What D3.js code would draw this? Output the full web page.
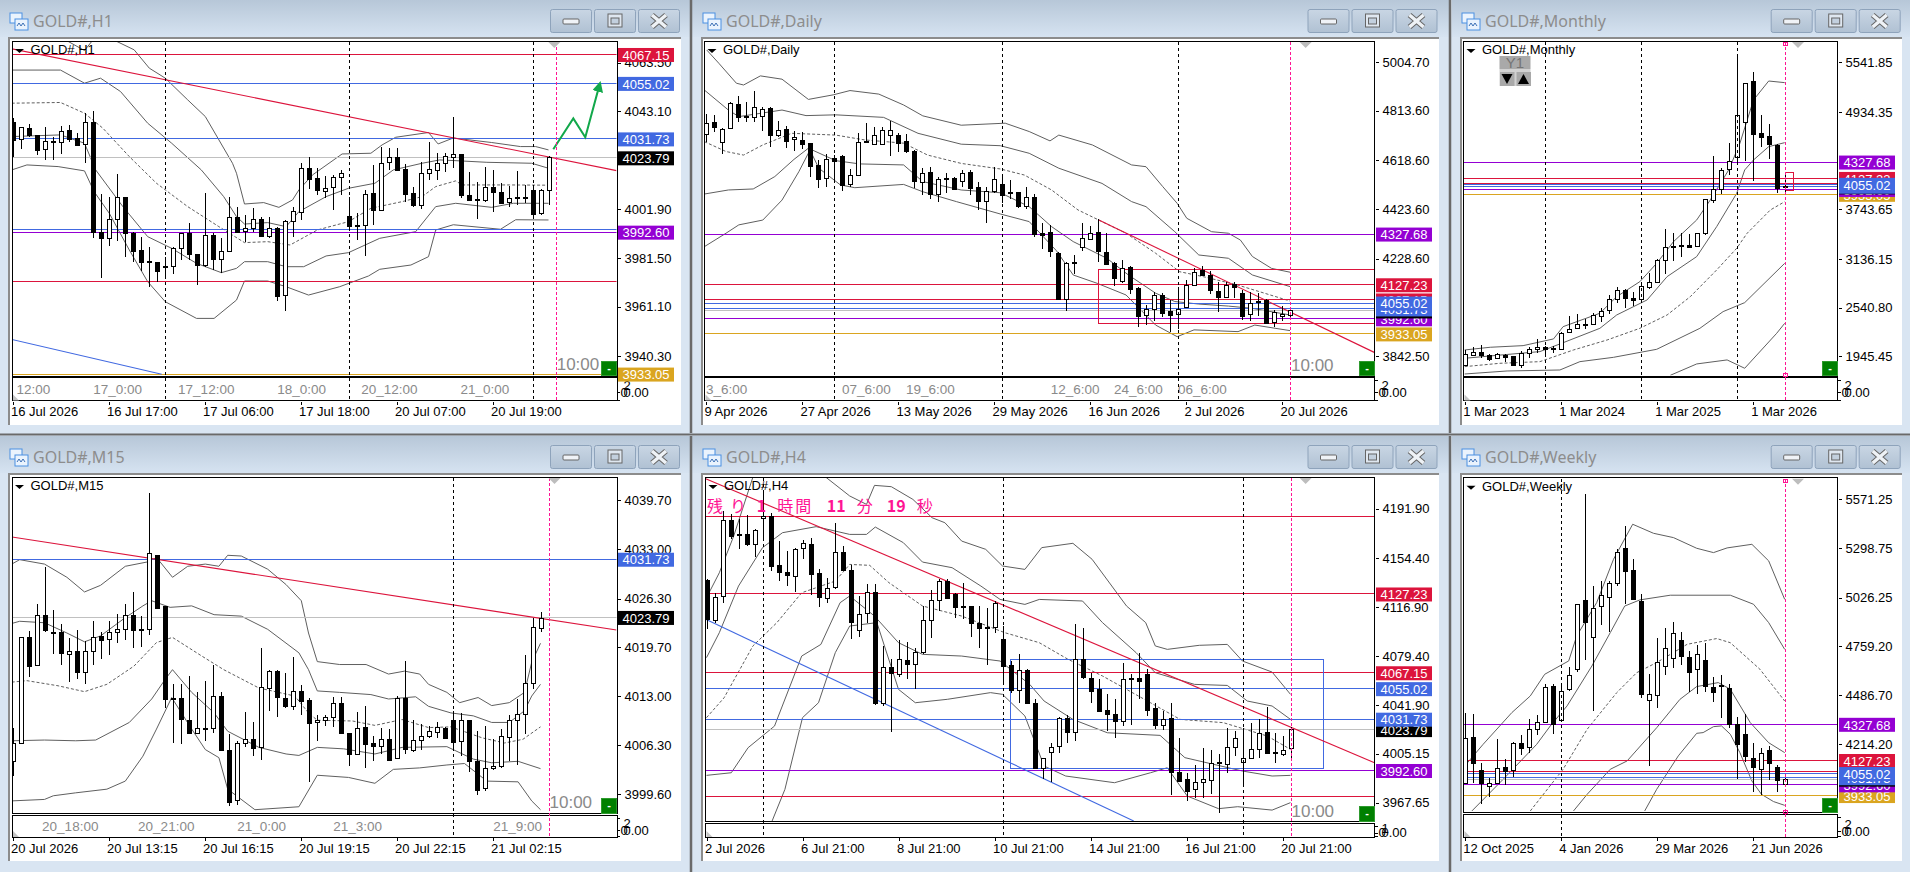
<!DOCTYPE html>
<html>
<head>
<meta charset="utf-8">
<style>
  html, body { margin: 0; padding: 0; background: #d8e4f0; overflow: hidden; }
  svg { display: block; }
  text { font-family: "Liberation Sans", Arial, sans-serif; }
  .axis text { font-size: 13px; fill: #000; }
  .axis line { stroke: #000; shape-rendering: crispEdges; }
  .axis path { display: none; }
</style>
<script src="https://cdn.jsdelivr.net/npm/d3@7"></script>
</head>
<body>
<svg id="chart" width="1910" height="872"></svg>
<script>
// levels shared by all six charts, in the order the labels stack up
const levelPrices = [3933.05, 3992.60, 4023.79, 4031.73, 4067.15, 4127.23, 4055.02, 4327.68];
const levelColors = ['#DAA520', '#9400D3', '#C0C0C0', '#4169E1', '#DC143C', '#DC143C', '#4169E1', '#9400D3'];
const labelColors = ['#DAA520', '#9400D3', '#000000', '#4169E1', '#DC143C', '#DC143C', '#4169E1', '#9400D3'];

// candles are [open, high, low, close]
const h1Candles = [[4038.8,4040.2,4024.1,4031.1],[4031.4,4036.7,4027.3,4036.4],[4036.0,4037.8,4032.2,4033.1],[4033.1,4033.3,4024.8,4027.0],[4027.0,4036.7,4022.7,4030.5],[4030.4,4032.5,4022.7,4030.8],[4030.5,4037.0,4025.2,4035.0],[4035.3,4037.5,4030.4,4031.7],[4031.9,4034.2,4028.6,4029.1],[4029.3,4042.3,4021.3,4038.5],[4038.5,4043.3,3989.9,3992.3],[3992.3,4008.4,3973.3,3989.7],[3989.7,4007.3,3986.6,3997.8],[3997.8,4016.8,3988.8,4007.0],[4007.0,4007.3,3982.1,3991.9],[3991.9,3992.6,3980.0,3984.2],[3984.9,3990.2,3976.1,3979.9],[3980.1,3986.0,3969.2,3979.6],[3979.9,3979.9,3971.6,3976.2],[3977.9,3982.1,3973.0,3978.2],[3977.9,3986.3,3974.8,3985.6],[3985.6,3991.9,3980.7,3991.9],[3991.9,3996.1,3980.7,3982.9],[3983.2,3983.2,3970.2,3978.7],[3978.7,4009.0,3977.9,3991.1],[3991.2,3991.9,3976.5,3981.3],[3981.3,3989.8,3975.1,3984.6],[3984.6,4007.3,3984.2,3998.9],[3998.9,4002.8,3991.9,3992.5],[3992.6,3999.6,3988.1,3994.0],[3993.9,4002.4,3992.6,3997.8],[3997.8,3998.9,3990.2,3990.5],[3990.5,3998.9,3990.1,3994.0],[3994.1,3994.7,3963.6,3965.7],[3965.7,3997.5,3959.4,3996.9],[3996.9,4003.1,3990.2,4001.1],[4000.7,4021.3,3997.5,4019.2],[4019.2,4023.8,4010.4,4014.7],[4015.0,4019.2,4007.9,4009.8],[4009.8,4016.1,4006.6,4011.1],[4011.1,4016.4,4001.7,4015.4],[4015.4,4018.5,4008.0,4017.1],[3999.0,4007.3,3993.0,3994.7],[3995.3,4000.3,3989.1,3994.7],[3995.3,4010.1,3982.4,4008.4],[4009.0,4020.6,3995.4,4001.7],[4001.7,4028.3,4001.4,4021.6],[4021.6,4027.6,4018.5,4023.8],[4023.8,4027.6,4018.2,4018.5],[4018.8,4021.0,4004.9,4008.5],[4008.7,4011.5,4003.1,4003.5],[4003.5,4021.7,4002.0,4017.1],[4017.1,4030.4,4014.3,4018.8],[4018.5,4025.5,4014.3,4021.3],[4021.3,4025.8,4017.8,4024.4],[4023.7,4040.6,4019.2,4025.1],[4025.1,4025.2,4006.6,4008.0],[4007.9,4017.7,4005.5,4005.6],[4006.2,4013.3,3998.1,4005.6],[4006.2,4019.6,4005.2,4011.5],[4011.5,4018.5,4001.0,4009.4],[4009.4,4013.2,4004.5,4004.8],[4005.3,4011.8,4003.1,4006.9],[4006.9,4018.1,4003.8,4007.2],[4007.3,4012.2,4004.8,4007.0],[4010.1,4012.2,3998.9,4000.2],[4000.2,4010.4,3999.6,4009.9],[4009.8,4024.4,4003.8,4023.8]];
const h1Up2 = [[-0.1,4074.2],[6,4074.2],[9,4068.6],[10.4,4074.5],[11.8,4075.9],[12.8,4072.8],[15.2,4068.9],[17.1,4061.2],[19.1,4057],[21.9,4047.9],[24.1,4040.9],[25.8,4031.1],[27.5,4021.3],[28,4017.1],[29,4004.2],[31.4,4004.8],[33.3,4002.8],[35,4005.9],[35.8,4010.1],[37.5,4016.4],[41.2,4025.2],[44.8,4025.5],[46.2,4029],[47.9,4032.2],[52,4034.2],[53.2,4029.4],[55.1,4031.9],[59.9,4030],[63.5,4028.3],[65.4,4028.3],[67,4026.9]];
const h1Up1 = [[-0.1,4060.4],[6,4060.4],[9,4054.9],[11,4057],[13.5,4051.4],[16.9,4038.1],[19.9,4029.7],[23.6,4018.5],[26.4,4007.3],[28,3998.9],[29,3995.8],[31.9,3996.4],[34.2,3994.7],[35.8,4001],[39.2,4007.3],[42,4010.8],[45.3,4012.9],[47.6,4018.5],[51.2,4021.3],[53.4,4022.7],[55.9,4022.3],[59.3,4021.7],[64.9,4021.3],[67,4019.2]];
const h1Mid = [[-0.1,4046.5],[6,4046.8],[9,4042.3],[11.3,4036],[14.6,4024.1],[18,4012.9],[21.9,4003.1],[25.8,3994.7],[29,3988],[31.9,3988.4],[34.7,3987],[38.1,3993.3],[42,3996.8],[44.8,4002.4],[48.7,4005.2],[51.2,4007.3],[52.9,4011.5],[55.4,4013.9],[56.2,4012.2],[62.1,4012.2],[67,4012.1]];
const h1Dn1 = [[-0.1,4032.5],[6,4033.2],[9,4029.7],[10.4,4018.5],[13.8,4003.1],[16.9,3990.5],[19.9,3985.6],[23,3979.3],[26.1,3975.4],[28,3977.2],[29,3980],[31.9,3980],[34.2,3977.9],[36.4,3977.9],[39.2,3982.4],[42,3983.8],[45.9,3989.8],[50.4,3992.6],[52.9,4003.1],[55.4,4004.5],[59.9,4002.8],[62.6,4004.5],[67,4004.5]];
const h1Dn2 = [[-0.1,4018.5],[1.8,4020.6],[5.7,4019.9],[9,4018.1],[10.2,4009.4],[12.1,4000.3],[14.6,3984.9],[16.9,3971.6],[19.1,3963.2],[23,3956.2],[25.2,3956.2],[28,3963.9],[29,3971.9],[31.9,3971.9],[34.2,3969.5],[37,3966],[40.9,3969.5],[44.5,3974],[45.9,3976.8],[49.8,3978.6],[52,3982.1],[52.9,3993.3],[55.1,3995.5],[61,3993.6],[62.9,3997.6],[67,3997.5]];
const h1TrendRed = [[-0.1,4069.3],[75.5,4018.2]];
const h1TrendBlue = [[-0.1,3947.4],[18.65,3932.8]];
const h1Arrow = [[67.6,4027.2],[70.1,4040.1],[71.6,4032.2],[73.4,4054.5]];
const h1Ticks = [4063.50,4043.10,4022.50,4001.90,3981.50,3961.10,3940.30];
const h1Dates = ['16 Jul 2026','16 Jul 17:00','17 Jul 06:00','17 Jul 18:00','20 Jul 07:00','20 Jul 19:00'];
const h1SubLabels = [[0.5,'12:00'],[10.1,'17_0:00'],[20.7,'17_12:00'],[33.1,'18_0:00'],[43.6,'20_12:00'],[56,'21_0:00']];

const dailyCandles = [[4721,4800,4691,4764],[4767,4797,4731,4748],[4687,4746,4642,4740],[4744,4849,4744,4843],[4840,4872,4770,4790],[4790,4849,4770,4793],[4790,4891,4767,4829],[4790,4827,4735,4819],[4824,4829,4671,4717],[4719,4774,4711,4739],[4740,4753,4665,4691],[4699,4735,4655,4708],[4696,4728,4662,4681],[4685,4687,4553,4596],[4599,4619,4507,4542],[4545,4642,4513,4621],[4625,4638,4540,4612],[4634,4638,4497,4521],[4521,4582,4513,4558],[4558,4724,4555,4688],[4692,4764,4684,4687],[4679,4750,4677,4716],[4679,4748,4677,4736],[4716,4774,4634,4736],[4717,4724,4652,4687],[4692,4721,4645,4652],[4654,4658,4507,4536],[4529,4586,4480,4566],[4570,4590,4463,4482],[4482,4553,4454,4542],[4542,4569,4487,4546],[4547,4550,4500,4505],[4533,4579,4513,4566],[4570,4579,4480,4505],[4510,4533,4421,4454],[4454,4513,4368,4495],[4495,4592,4487,4542],[4524,4553,4447,4482],[4493,4540,4463,4491],[4491,4493,4428,4434],[4438,4513,4424,4474],[4474,4484,4313,4326],[4331,4368,4265,4322],[4333,4362,4236,4256],[4250,4256,4068,4069],[4069,4217,4023,4210],[4213,4243,4168,4217],[4273,4368,4260,4309],[4308,4358,4302,4331],[4333,4384,4217,4256],[4256,4329,4203,4207],[4210,4217,4122,4150],[4140,4223,4134,4190],[4197,4200,4089,4110],[4111,4115,3960,4000],[4003,4045,3966,4028],[4032,4098,3984,4086],[4085,4092,3997,4015],[4023,4065,3940,4007],[4011,4115,3949,4031],[4036,4144,4032,4123],[4124,4190,4120,4175],[4184,4201,4164,4165],[4164,4181,4089,4105],[4101,4138,4019,4078],[4076,4138,4072,4124],[4130,4138,4072,4119],[4092,4105,3986,4000],[4008,4098,3984,4052],[4061,4094,4000,4056],[4065,4069,3970,3973],[3976,4026,3960,4016],[4001,4041,3984,4009],[4006,4028,3997,4024]];
const dailyUp2 = [[0.1,5053],[1.6,5001],[3.8,4922],[4.7,4915],[6.8,4951],[9.5,4938],[12.8,4858],[15.9,4876],[18,4893],[21.6,4879],[24.7,4836],[27.1,4793],[31.9,4756],[37.4,4764],[40.4,4731],[43,4694],[44.1,4717],[48.3,4678],[53.2,4599],[55,4592],[57.1,4513],[58.9,4447],[60.1,4388],[63.2,4335],[65.3,4329],[66.8,4302],[68.3,4237],[70.7,4190],[73,4175]];
const dailyUp1 = [[-0.2,4895],[2.8,4816],[4.1,4790],[9.5,4816],[12.5,4794],[16.2,4797],[22.2,4787],[26.5,4724],[31.9,4681],[36.8,4675],[40.4,4645],[44.1,4586],[49.5,4526],[53.2,4454],[55,4434],[58.6,4335],[61.6,4243],[65.3,4230],[68.3,4164],[73,4118]];
const dailyMid = [[-0.2,4691],[2.5,4652],[4.7,4638],[7.1,4678],[10.7,4724],[16.2,4717],[19.8,4698],[24.7,4685],[27.7,4638],[31.9,4605],[36.8,4583],[39.8,4559],[43.2,4500],[46.5,4421],[49.5,4375],[52.5,4329],[56.2,4250],[59.2,4177],[62.2,4157],[66.5,4124],[73,4061]];
const dailyDn1 = [[-0.2,4484],[2.8,4500],[5.9,4504],[8.6,4553],[11,4621],[12.8,4665],[16.2,4616],[19.2,4603],[24.7,4599],[27.1,4533],[31.9,4500],[36.8,4489],[40.4,4434],[43.2,4355],[45.9,4296],[50.1,4230],[52.8,4164],[56.2,4092],[58.6,4059],[61.6,4049],[65.3,4041],[68.3,4032],[73,4006]];
const dailyDn2 = [[-0.2,4276],[2.5,4329],[4.1,4362],[7.1,4381],[9.5,4460],[11.6,4572],[13,4658],[14.1,4586],[16.8,4520],[18.6,4509],[24.7,4522],[27.1,4493],[31.3,4454],[36.8,4405],[40.4,4375],[43.8,4260],[45.9,4164],[48.9,4131],[52.5,4085],[56.2,3966],[58.9,3920],[61,3947],[66.5,3940],[68.6,3966],[73,3944]];
const dailyTrendRed = [[49.1,4381],[83.6,3857]];
const dailyBox = [49, 84, 4186.4, 3973];
const dailyTicks = [5004.70,4813.60,4618.60,4423.60,4228.60,4033.60,3842.50];
const dailyDates = ['9 Apr 2026','27 Apr 2026','13 May 2026','29 May 2026','16 Jun 2026','2 Jul 2026','20 Jul 2026'];
const dailySubLabels = [[0,'3_6:00'],[17,'07_6:00'],[25,'19_6:00'],[43.1,'12_6:00'],[51,'24_6:00'],[59,'06_6:00']];

const monthlyCandles = [[1831,2023,1827,1970],[1962,2056,1950,1998],[1994,2080,1929,1962],[1966,1974,1892,1913],[1917,1990,1909,1970],[1966,1974,1872,1937],[1950,1954,1840,1844],[1844,2015,1807,1990],[1986,2064,1921,2039],[2043,2154,1982,2064],[2064,2072,1974,2043],[2039,2072,1990,2047],[2043,2243,2039,2235],[2247,2439,2235,2284],[2288,2463,2280,2337],[2337,2398,2280,2345],[2333,2480,2325,2447],[2447,2533,2366,2504],[2504,2696,2463,2643],[2643,2790,2602,2753],[2753,2773,2541,2655],[2655,2732,2561,2626],[2639,2859,2614,2802],[2802,2961,2773,2859],[2863,3132,2859,3128],[3132,3499,2953,3287],[3287,3450,3116,3295],[3295,3458,3165,3307],[3303,3438,3271,3283],[3291,3458,3283,3450],[3446,3874,3434,3866],[3866,4396,3825,3997],[3988,4245,3935,4221],[4233,4551,4168,4331],[4380,5603,4323,4894],[4808,5285,4339,5285],[5313,5424,4094,4669],[4673,4898,4510,4620],[4641,4787,4359,4547],[4531,4543,3947,4001],[4025,4200,3960,4009]];
const monthlyUp2 = [[0,2023],[3.2,2056],[7.3,2076],[11.1,2158],[12.3,2308],[16.9,2472],[19,2675],[21.9,2859],[24,3083],[26.1,3348],[29,3613],[30.7,3858],[33,4225],[34.4,4551],[36.1,5081],[38,5313],[40,5293]];
const monthlyUp1 = [[0,1921],[3.2,1950],[9.4,2003],[12.1,2104],[16.9,2288],[19,2451],[22.8,2635],[25.3,2920],[29,3165],[31.5,3532],[34,3939],[35,4225],[36.1,4347],[38,4510],[40,4559]];
const monthlyMid = [[0,1819],[4.4,1860],[9.4,1880],[13.6,2023],[17.8,2145],[21.9,2288],[25.3,2451],[28.2,2675],[31.5,3002],[34,3267],[35.3,3450],[38.2,3735],[40,3837]];
const monthlyDn1 = [[0,1729],[5.3,1766],[11.9,1778],[14.4,1880],[18.6,1933],[24,2031],[29.4,2288],[32.3,2492],[35,2602],[40,3083]];
const monthlyDn2 = [[25.7,1713],[29,1852],[32.8,1901],[35,1799],[39,2227],[40,2349]];
const monthlyBox = [40, 41, 4196, 3972];
const monthlyTicks = [5541.85,4934.35,4339.00,3743.65,3136.15,2540.80,1945.45];
const monthlyDates = ['1 Mar 2023','1 Mar 2024','1 Mar 2025','1 Mar 2026'];

const m15Candles = [[4004.2,4008.7,4002.1,4006.6],[4006.6,4021.1,4006.5,4021.0],[4021.1,4021.9,4015.6,4017.1],[4017.2,4025.5,4017.1,4024.0],[4024.0,4030.6,4021.7,4021.9],[4021.8,4024.7,4018.7,4021.6],[4021.7,4022.8,4017.2,4018.8],[4018.8,4020.9,4014.9,4019.2],[4019.2,4022.0,4015.3,4016.3],[4016.2,4020.5,4014.6,4019.1],[4019.1,4023.2,4017.3,4021.0],[4021.2,4021.7,4018.0,4020.7],[4020.7,4023.2,4018.6,4021.7],[4021.7,4024.2,4020.3,4022.1],[4022.1,4025.5,4020.7,4024.0],[4024.0,4027.2,4019.6,4022.0],[4022.1,4023.9,4019.7,4022.0],[4022.1,4040.7,4021.3,4032.5],[4032.3,4032.3,4024.9,4025.1],[4025.3,4025.3,4011.4,4012.6],[4012.8,4014.7,4006.6,4012.6],[4012.8,4014.7,4006.4,4009.9],[4009.8,4015.7,4007.9,4008.0],[4008.0,4013.5,4007.9,4008.7],[4008.7,4015.1,4006.9,4008.6],[4008.6,4017.3,4008.0,4013.0],[4013.0,4013.5,4005.5,4005.6],[4005.6,4007.8,3998.0,3998.5],[3998.8,4006.9,3998.2,4006.6],[4006.6,4010.8,4006.0,4007.2],[4007.2,4009.4,4004.8,4006.0],[4006.0,4019.6,4004.3,4014.2],[4014.1,4016.6,4011.0,4016.4],[4016.4,4016.6,4010.1,4012.8],[4012.8,4016.2,4011.4,4011.7],[4011.7,4018.3,4011.1,4013.7],[4013.7,4014.5,4010.4,4012.4],[4012.5,4012.8,4001.3,4009.4],[4009.4,4010.4,4006.9,4009.7],[4009.7,4010.4,4008.9,4010.1],[4010.1,4012.9,4008.8,4012.0],[4012.0,4012.9,4007.8,4007.9],[4007.9,4007.9,4003.5,4005.1],[4005.1,4010.8,4004.9,4008.6],[4008.8,4011.7,4003.2,4006.5],[4006.6,4007.6,4004.1,4006.2],[4006.2,4008.7,4005.1,4007.2],[4007.2,4008.5,4004.1,4004.4],[4004.5,4013.0,4004.4,4012.7],[4012.7,4017.8,4005.1,4005.7],[4005.7,4009.8,4005.4,4007.0],[4007.0,4009.2,4005.7,4007.6],[4007.5,4008.9,4007.3,4008.2],[4008.1,4009.5,4007.3,4008.8],[4008.7,4008.8,4007.1,4007.4],[4009.8,4011.0,4005.5,4006.8],[4006.8,4010.7,4004.8,4009.7],[4009.7,4009.8,4002.6,4004.1],[4004.1,4008.3,3999.5,4000.2],[4000.5,4008.9,4000.1,4003.2],[4003.1,4007.2,4002.9,4003.4],[4003.4,4008.5,4003.2,4007.5],[4007.5,4010.4,4004.1,4009.8],[4009.8,4012.6,4003.6,4010.6],[4010.6,4018.6,4007.8,4014.8],[4014.8,4023.7,4014.0,4022.4],[4022.3,4024.5,4021.7,4023.7]];
const m15Up2 = [[-0.1,4031],[0.9,4031.6],[4,4031],[6.8,4029.2],[9,4027.2],[11,4028.1],[14.1,4030.7],[16.9,4031.3],[18,4031.9],[20,4029.2],[21.9,4030.7],[24.1,4031],[25.8,4030.7],[26.9,4032.2],[28.6,4032.1],[31.9,4030.3],[34.2,4028.2],[36.1,4026],[37,4021.6],[38.1,4017.7],[40.9,4017.3],[44.2,4017.3],[47,4016],[49,4016.4],[50.9,4016],[52,4014.6],[54.3,4013.5],[55.9,4012.1],[58.2,4012.8],[59.9,4011.7],[62.1,4012.1],[64,4013.5],[64.9,4017.6],[66,4020.2]];
const m15Up1 = [[-0.1,4022.9],[0.9,4023.2],[4,4023],[6.8,4021.6],[9,4020.4],[11,4021.2],[14.1,4023.7],[16.3,4025.3],[17.4,4026],[19.7,4025.1],[22.4,4025.3],[25.2,4024.1],[28.6,4023.9],[31.9,4022.1],[35.8,4018.9],[37,4016.6],[38.1,4013.7],[40.9,4013.5],[44.8,4013.2],[47,4012.6],[50.4,4012.9],[52,4011.6],[54.8,4010.7],[57.6,4010.3],[59.9,4009.4],[62.1,4009.4],[64,4011],[64.9,4013],[66,4014.6]];
const m15Mid = [[-0.1,4014.9],[1.8,4015.1],[5.7,4014.4],[9,4013.6],[11.8,4014.6],[15.2,4017.1],[18,4020.3],[20,4021],[23.6,4018.5],[26.4,4016.6],[30.8,4014.1],[35.3,4013],[37,4010.7],[38.1,4009.7],[42.5,4009.6],[45.3,4009],[48.7,4009.8],[52,4008.7],[54.8,4008.8],[58.7,4007.3],[61.5,4006.6],[63.8,4007.1],[66,4008.8]];
const m15Dn1 = [[-0.1,4006.9],[4,4007],[7.9,4006.9],[10.4,4007],[14.6,4009.4],[17.4,4012.6],[19.1,4015.3],[20,4016.6],[22.4,4013.5],[25.2,4010.7],[26.9,4008.2],[30.8,4006],[34.2,4005.1],[35.8,4004.9],[38.1,4006],[41.4,4005.8],[45.3,4005.1],[48.7,4006],[54.3,4006.1],[57.6,4004.4],[59.9,4003.9],[63.2,4004.1],[66,4003.1]];
const m15Dn2 = [[-0.1,3998.7],[4,3998.9],[5.1,3999.4],[7.9,3999.8],[11.8,4000.3],[14.1,4001.4],[16.3,4004.8],[18,4008.5],[19.9,4012.8],[22.4,4008.5],[24.1,4005.7],[25.8,4004.6],[26.9,4000.3],[30.3,3997.5],[35.8,3997.9],[38.1,4002.2],[42,4001.9],[45.3,4001.1],[47.6,4003],[50.9,4003.2],[54.3,4003.6],[56.5,4003.8],[59.3,4001.4],[63.2,4001.3],[64.9,3998.7],[66,3997.5]];
const m15TrendRed = [[-0.1,4034.7],[75.5,4022.0]];
const m15Ticks = [4039.70,4033.00,4026.30,4019.70,4013.00,4006.30,3999.60];
const m15Dates = ['20 Jul 2026','20 Jul 13:15','20 Jul 16:15','20 Jul 19:15','20 Jul 22:15','21 Jul 02:15'];
const m15SubLabels = [[3.7,'20_18:00'],[15.7,'20_21:00'],[28.1,'21_0:00'],[40.1,'21_3:00'],[60.1,'21_9:00']];

const h4Candles = [[4137.5,4138.5,4100.4,4107.5],[4107,4127.8,4105,4124.3],[4125.5,4190.1,4120.2,4183.3],[4183.3,4187.6,4168.5,4171.3],[4172.3,4183.8,4160.9,4171.3],[4172.3,4186.8,4163.4,4164.4],[4164.4,4176.6,4155.3,4175.4],[4184.5,4204.1,4168.5,4186.3],[4186.3,4188.3,4144.4,4148.2],[4148.7,4167.2,4136.7,4143.1],[4143.6,4159.6,4132.9,4141.1],[4141.1,4162.2,4128.6,4161.4],[4161.4,4168,4153.3,4165.5],[4165,4169.8,4125.8,4142.3],[4142.6,4145.6,4117.2,4124],[4124,4139.3,4120.2,4131.6],[4131.6,4180.7,4130.9,4158.6],[4158.6,4163.4,4144.4,4144.6],[4145.1,4148.7,4092.2,4105.5],[4098.8,4125.3,4094,4111.3],[4112.1,4134.2,4105,4128.1],[4128.1,4134.2,4041.9,4043.2],[4043.2,4087.2,4041.4,4070.9],[4070.9,4077,4021.8,4066],[4066,4091.7,4063.8,4077.5],[4076.2,4090.2,4062.2,4073.2],[4073.2,4085.6,4054.6,4082.3],[4082,4117.7,4080.8,4106.7],[4106.7,4129.9,4093.5,4122],[4122,4138.5,4113.9,4136.5],[4136.5,4138,4122.8,4123.8],[4126.8,4127.8,4108.3,4117.2],[4117.7,4135.5,4107.5,4117.2],[4117.4,4118,4094.3,4104.2],[4104.4,4117.7,4085.6,4100.4],[4101.4,4116.4,4072.9,4100.4],[4101.1,4121.5,4097.3,4119.7],[4092.2,4102.4,4059.2,4071.9],[4072.4,4075.7,4051.6,4053.6],[4053.6,4080.8,4043.4,4068.6],[4068.6,4069.4,4042.7,4043.4],[4043.4,4047,3993.1,3993.6],[3993.6,4002,3986,4001.5],[4006.6,4012.9,3983.4,4010.4],[4010.4,4033.2,4005.8,4032],[4032,4034.3,4012.9,4021.6],[4021.6,4103.7,4014.7,4077],[4077,4101.1,4061.7,4063],[4063,4066.8,4043.9,4052.8],[4054.1,4062.2,4036.8,4037.6],[4038.1,4050.3,4022.3,4034.8],[4035.3,4046.5,4017.2,4029.9],[4029.9,4074.4,4026.1,4061.7],[4062,4066,4026.6,4062.5],[4062.5,4081.6,4046.5,4060.4],[4066,4069.4,4033.8,4038.8],[4039.6,4043.9,4023.6,4026.9],[4027.1,4037.6,4023.1,4031.7],[4032,4043.9,3973.5,3990.5],[3991,4017.2,3983.4,3984.2],[3985.4,3990.5,3969,3976.6],[3978.3,3996.1,3971.5,3983.6],[3982.9,4009.1,3971.5,3985.4],[3985,4007.8,3974,3998.2],[3998.4,4004.5,3960,3997.4],[3997.2,4024.8,3990.5,4010.4],[4010.4,4022.3,4003.3,4017.2],[3998.9,4024.8,3981.6,4002],[4001.7,4028.7,4000.7,4008.8],[4008.8,4031.7,4002,4021.1],[4021.6,4040.9,4005.8,4005.8],[4006,4021.1,3998.2,4005],[4004.5,4018.5,4003.3,4007.6],[4009.6,4025.6,3999.4,4023.8]];
const h4Up2 = [[0,4124],[1.6,4143],[3.4,4171],[5.8,4216],[14.9,4216],[17.9,4201.6],[20,4195.2],[21,4209.7],[23.1,4208.7],[25.8,4199],[28.2,4185],[29.8,4181.2],[31.9,4167.2],[34.9,4160.9],[37,4148.2],[39.8,4145.6],[41.9,4162.2],[45.8,4165.5],[48.2,4153.3],[52.5,4117.7],[54.9,4105],[56.1,4087.2],[57.6,4084.6],[61.6,4087.7],[65.1,4088.4],[67,4075.7],[70.7,4067.3],[73,4050.3]];
const h4Up1 = [[0,4078.3],[1.6,4097.3],[4,4132.9],[7,4162.2],[9.5,4173.6],[13.7,4178.2],[17.9,4172.3],[20,4172.3],[21.1,4177.9],[24.6,4166],[27,4151.2],[30.7,4146.9],[34.3,4132.9],[36.7,4122.7],[39.8,4118.9],[41.6,4122.7],[47,4121.5],[49.5,4105],[53.7,4082.1],[56.1,4066.8],[61,4057.9],[65.1,4057.1],[67.6,4045.2],[70.7,4041.4],[73,4031.2]];
const h4Mid = [[0,4032.5],[2.2,4047.7],[5.8,4087.2],[8.8,4105],[11.9,4127.8],[16.1,4136.7],[17.9,4149.4],[20.4,4148.7],[22.8,4135.5],[27,4117.7],[31.9,4110],[37.3,4097.3],[41.6,4089.7],[45.2,4077],[49.5,4064.3],[55.5,4043.9],[59.2,4031.2],[64.6,4028.7],[70.1,4018.5],[73,4008.3]];
const h4Dn1 = [[0,3988.5],[3.1,3990.5],[5.2,4009.6],[8.5,4026.1],[11.9,4079.5],[14.3,4088.4],[16.7,4120.2],[17.9,4125.3],[21,4110],[24,4089.7],[27,4080.8],[31.9,4079.5],[36.7,4075.7],[40.4,4057.9],[42.2,4045.2],[45.8,4031.2],[50.1,4021],[56.7,4019],[59.8,4002],[63.4,3996.9],[67,3991.8],[70.7,3988],[73,3988.5]];
const h4Dn2 = [[8.2,3953.7],[9.8,3977.8],[12,4032.5],[14,4043.9],[16.1,4082.1],[17.9,4102.4],[21.3,4105],[24,4054.1],[26.1,4043.9],[30.1,4046.5],[35.5,4051.6],[37,4050.3],[39.8,4033.8],[42.2,3995.6],[44.9,3988],[51,3982.9],[55.5,3990.5],[57.6,3994.3],[60.1,3972.7],[64,3963.1],[66.4,3964.6],[70.7,3962],[73,3967.7]];
const h4TrendRed = [[-0.1,4214.8],[83.5,3998.2]];
const h4TrendBlue = [[-0.1,4107.5],[53.4,3953.7]];
const h4Box = [37.9, 77, 4077, 3993.8];
const h4Ticks = [4191.90,4154.40,4116.90,4079.40,4041.90,4005.15,3967.65];
const h4Dates = ['2 Jul 2026','6 Jul 21:00','8 Jul 21:00','10 Jul 21:00','14 Jul 21:00','16 Jul 21:00','20 Jul 21:00'];
const h4Countdown = [[707,'残'],[730,'り'],[756.7,'1'],[777.3,'時間'],[826.7,'11'],[856.7,'分'],[886.7,'19'],[916.7,'秒']];

const weeklyCandles = [[3998,4386,3998,4247],[4255,4384,4002,4109],[4070,4109,3882,3996],[3982,4030,3924,3998],[3996,4242,3993,4081],[4087,4131,3989,4065],[4070,4227,4035,4220],[4222,4266,4155,4196],[4196,4353,4168,4297],[4297,4375,4266,4338],[4334,4547,4331,4530],[4537,4547,4270,4329],[4347,4537,4342,4508],[4517,4643,4510,4596],[4628,4990,4617,4990],[5012,5601,4681,4888],[4805,5091,4399,4968],[4977,5119,4875,5040],[5028,5119,4836,5106],[5106,5294,5091,5278],[5300,5424,4993,5171],[5178,5239,5012,5016],[5008,5049,4473,4495],[4458,4606,4094,4491],[4491,4805,4417,4672],[4646,4860,4598,4746],[4691,4892,4639,4829],[4792,4836,4655,4705],[4696,4731,4506,4611],[4628,4764,4495,4713],[4679,4775,4506,4534],[4532,4587,4450,4506],[4541,4598,4362,4534],[4524,4547,4307,4325],[4325,4366,4020,4214],[4270,4380,4116,4146],[4137,4220,3950,4085],[4081,4192,3933,4168],[4183,4205,4017,4113],[4087,4098,3950,4013],[3996,4030,3983,4024]];
const weeklyUp2 = [[0,4094],[2.3,4214],[5.9,4390],[8.2,4482],[10,4602],[13,4676],[14,4814],[16.5,4999],[18.6,5239],[21,5433],[23.6,5383],[26.1,5359],[29,5300],[31.1,5276],[32.8,5302],[35.9,5322],[38,5230],[40,5017]];
const weeklyUp1 = [[0.9,3845],[4.8,4020],[9,4214],[10.7,4316],[12.8,4427],[15.9,4648],[18.2,4833],[20,4980],[21.9,5014],[25.7,5040],[33.2,5040],[36.1,4990],[38,4888],[40,4740]];
const weeklyMid = [[8.2,3845],[12.3,4076],[15.3,4297],[19,4500],[21.5,4611],[24,4667],[27.8,4768],[31.5,4800],[33.2,4777],[36.9,4630],[40,4454]];
const weeklyDn1 = [[13.6,3845],[15.3,3937],[18.2,4076],[20.3,4122],[24,4306],[26.9,4463],[29,4534],[31.7,4556],[33.2,4519],[35.7,4334],[38,4223],[40,4168]];
const weeklyDn2 = [[22.5,3845],[24,3965],[26.7,4150],[29,4275],[29.8,4279],[31.1,4312],[32.1,4316],[33.2,4270],[34.4,4168],[35.9,4011],[37.1,3937],[38.6,3897],[40,3876]];
const weeklyTicks = [5571.25,5298.75,5026.25,4759.20,4486.70,4214.20,3941.70];
const weeklyDates = ['12 Oct 2025','4 Jan 2026','29 Mar 2026','21 Jun 2026'];

const panels = [
  { title: 'GOLD#,H1', win: [0, 0, 690, 433], inner: [8, 37, 681, 425], btnRight: 680,
    plot: [12, 41, 616.5, 375.5], sub: [377.5, 400.5], dateY: 416, x0: 12.5,
    anchors: [4043.10, 111.3, 3940.30, 356.3], candles: h1Candles, bands: [h1Up2, h1Up1, h1Mid, h1Dn1, h1Dn2],
    ticks: h1Ticks, dates: h1Dates, subLabels: h1SubLabels, black: [19, 42, 65], pink: 67.9, triX: 554.3, clock: 370,
    red: [h1TrendRed], blue: [h1TrendBlue], extra: [[3993.6, '#4169E1'], [3971.7, '#DC143C']], arrow: h1Arrow,
    subTop: '2', subTopY: 389.5, subBaseY: 396.5 },
  { title: 'GOLD#,Daily', win: [692, 0, 1449, 433], inner: [701, 37, 1439, 425], btnRight: 1437.5,
    plot: [704.5, 41, 1374.5, 375.5], sub: [377.5, 400.5], dateY: 416, x0: 706,
    anchors: [5004.70, 62.3, 3842.50, 356.3], candles: dailyCandles, bands: [dailyUp2, dailyUp1, dailyMid, dailyDn1, dailyDn2],
    ticks: dailyTicks, dates: dailyDates, subLabels: dailySubLabels, black: [16, 37, 59], pink: 73, triX: 1305.6, clock: 370.5,
    red: [dailyTrendRed], redBox: dailyBox,
    subTop: '2', subTopY: 389.5, subBaseY: 396.5 },
  { title: 'GOLD#,Monthly', win: [1452, 0, 1910, 433], inner: [1460, 37, 1902, 425], btnRight: 1900.7,
    plot: [1463.5, 41, 1837.5, 375.5], sub: [377.5, 400.5], dateY: 416, x0: 1464.7,
    anchors: [5541.85, 62.3, 1945.45, 356.3], candles: monthlyCandles, bands: [monthlyUp2, monthlyUp1, monthlyMid, monthlyDn1, monthlyDn2],
    ticks: monthlyTicks, dates: monthlyDates, black: [10, 22, 34], pink: 40, triX: 1798, redBox: monthlyBox, y1: true, pinkPips: true,
    subTop: '2', subTopY: 389.5, subBaseY: 396.5 },
  { title: 'GOLD#,M15', win: [0, 436, 690, 872], inner: [8, 473, 681, 861], btnRight: 680,
    plot: [12, 477, 616.5, 813], sub: [815.5, 837], dateY: 853, x0: 12.5,
    anchors: [4039.70, 500.3, 3999.60, 794.3], candles: m15Candles, bands: [m15Up2, m15Up1, m15Mid, m15Dn1, m15Dn2],
    ticks: m15Ticks, dates: m15Dates, subLabels: m15SubLabels, black: [55], pink: 67, triX: 554.5, clock: 807.5,
    red: [m15TrendRed],
    subTop: '2', subTopY: 828, subBaseY: 834.5 },
  { title: 'GOLD#,H4', win: [692, 436, 1449, 872], inner: [701, 473, 1439, 861], btnRight: 1437.5,
    plot: [705.5, 477, 1374.5, 821], sub: [823.5, 837], dateY: 853, x0: 706.5,
    anchors: [4191.90, 508.7, 3967.65, 802.7], candles: h4Candles, bands: [h4Up2, h4Up1, h4Mid, h4Dn1, h4Dn2],
    ticks: h4Ticks, dates: h4Dates, black: [7, 37, 67], pink: 73, triX: 1305.6, clock: 816.5,
    red: [h4TrendRed], blue: [h4TrendBlue], blueBox: h4Box, extra: [[4186.1, '#DC143C'], [3972.5, '#DC143C']],
    subTop: '1', subTopY: 833, subBaseY: 837, countdown: h4Countdown },
  { title: 'GOLD#,Weekly', win: [1452, 436, 1910, 872], inner: [1460, 473, 1902, 861], btnRight: 1900.7,
    plot: [1463.5, 477.7, 1837.5, 812.5], sub: [814.5, 837], dateY: 853, x0: 1464.7,
    anchors: [5571.25, 499.3, 4214.20, 744.3], candles: weeklyCandles, bands: [weeklyUp2, weeklyUp1, weeklyMid, weeklyDn1, weeklyDn2],
    ticks: weeklyTicks, dates: weeklyDates, black: [12], pink: 40, triX: 1798, pinkPips: true,
    subTop: '2', subTopY: 829, subBaseY: 835.5 }
];

const svg = d3.select('#chart');
const defs = svg.append('defs');

const titleGrad = defs.append('linearGradient').attr('id', 'titleGrad').attr('x1', 0).attr('x2', 0).attr('y1', 0).attr('y2', 1);
titleGrad.append('stop').attr('offset', 0).attr('stop-color', '#b7c7d8');
titleGrad.append('stop').attr('offset', 1).attr('stop-color', '#d6e3f1');
const btnGrad = defs.append('linearGradient').attr('id', 'btnGrad').attr('x1', 0).attr('x2', 0).attr('y1', 0).attr('y2', 1);
btnGrad.append('stop').attr('offset', 0).attr('stop-color', '#c9d6e4');
btnGrad.append('stop').attr('offset', 1).attr('stop-color', '#b0c1d3');

svg.append('rect').attr('width', 1910).attr('height', 872).attr('fill', '#d9e5f2');

function drawChrome(g, p) {
  const [wx0, wy0, wx1] = p.win;
  const [ix0, iy0, ix1, iy1] = p.inner;
  g.append('rect').attr('x', wx0).attr('y', wy0).attr('width', wx1 - wx0).attr('height', 37).attr('fill', 'url(#titleGrad)');
  g.append('rect').attr('x', ix0).attr('y', iy0).attr('width', ix1 - ix0).attr('height', iy1 - iy0)
    .attr('fill', '#fff');
  // sunken edge on the top and left of the client area
  g.append('path').attr('d', `M${ix0 + 1},${iy1} V${iy0 + 1} H${ix1}`).attr('fill', 'none')
    .attr('stroke', '#8c8c8c').attr('stroke-width', 2);

  // little window icon
  const ix = ix0 + 2, iy = wy0 + 13;
  g.append('rect').attr('x', ix).attr('y', iy).attr('width', 12).attr('height', 10).attr('fill', '#eaf3fd').attr('stroke', '#4a90e2');
  g.append('rect').attr('x', ix + 5).attr('y', iy + 6).attr('width', 13).attr('height', 11).attr('fill', '#eaf3fd').attr('stroke', '#4a90e2');
  g.append('path').attr('d', `M${ix + 7},${iy + 13} l2,-3 l2,3 l2,-3 l2,3`).attr('fill', 'none').attr('stroke', '#3b6fb5');

  g.append('text').attr('x', ix0 + 25).attr('y', wy0 + 27).attr('fill', '#8d8d8d')
    .style('font-family', '"Noto Sans", sans-serif').style('font-size', '16px').text(p.title);

  // minimize, maximize, close
  const by = wy0 + 9.5;
  [2, 1, 0].forEach((n, k) => {
    const bx = p.btnRight - 41.5 - n * 44;
    g.append('rect').attr('x', bx).attr('y', by).attr('width', 41).attr('height', 23).attr('rx', 2)
      .attr('fill', 'url(#btnGrad)').attr('stroke', '#8ea3bb');
    const cx = bx + 20.5, cy = by + 11.5;
    if (k === 0) {
      g.append('rect').attr('x', cx - 8).attr('y', cy - 2).attr('width', 16).attr('height', 5).attr('rx', 1)
        .attr('fill', '#f0f3f7').attr('stroke', '#666');
    } else if (k === 1) {
      g.append('rect').attr('x', cx - 7).attr('y', cy - 7).attr('width', 14).attr('height', 13)
        .attr('fill', '#dfe7f0').attr('stroke', '#666');
      g.append('rect').attr('x', cx - 4).attr('y', cy - 3).attr('width', 8).attr('height', 6)
        .attr('fill', '#c3d0de').attr('stroke', '#666');
    } else {
      const cross = `M${cx - 7},${cy - 6} L${cx + 7},${cy + 6} M${cx + 7},${cy - 6} L${cx - 7},${cy + 6}`;
      g.append('path').attr('d', cross).attr('stroke', '#666').attr('stroke-width', 5.5);
      g.append('path').attr('d', cross).attr('stroke', '#eef2f6').attr('stroke-width', 3.5);
    }
  });
}

function drawPanel(p, idx) {
  const g = svg.append('g');
  drawChrome(g, p);

  const [left, top, right, bottom] = p.plot;
  const [subTop, subBot] = p.sub;
  const x = d3.scaleLinear().domain([0, 1]).range([p.x0, p.x0 + 8]);
  const y = d3.scaleLinear().domain([p.anchors[0], p.anchors[2]]).range([p.anchors[1], p.anchors[3]]);
  const line = d3.line().x(d => x(d[0])).y(d => y(d[1]));
  const px = v => Math.round(v) + 0.5;

  const clipId = 'clip' + idx;
  defs.append('clipPath').attr('id', clipId).append('rect')
    .attr('x', left).attr('y', top).attr('width', right - left).attr('height', bottom - top);
  const plot = g.append('g').attr('clip-path', `url(#${clipId})`);

  // bands
  p.bands.forEach((band, i) => {
    plot.append('path').attr('d', line(band)).attr('fill', 'none').attr('stroke', '#5f5f5f')
      .attr('stroke-width', 1).attr('stroke-dasharray', i === 2 ? '3,2' : null);
  });

  // horizontal levels
  levelPrices.forEach((v, i) => {
    if (y(v) < top || y(v) > bottom + 1) return;
    plot.append('line').attr('x1', left).attr('x2', right).attr('y1', px(y(v))).attr('y2', px(y(v)))
      .attr('stroke', levelColors[i]).style('shape-rendering', 'crispEdges');
  });
  (p.extra || []).forEach(([v, c]) => {
    plot.append('line').attr('x1', left).attr('x2', right).attr('y1', px(y(v))).attr('y2', px(y(v)))
      .attr('stroke', c).style('shape-rendering', 'crispEdges');
  });

  // boxes and trend lines
  const box = (b, c) => plot.append('rect').attr('x', px(x(b[0]))).attr('y', px(y(b[2])))
    .attr('width', Math.round(x(b[1]) - x(b[0]))).attr('height', Math.round(y(b[3]) - y(b[2])))
    .attr('fill', 'none').attr('stroke', c).style('shape-rendering', 'crispEdges');
  if (p.redBox) box(p.redBox, '#DC143C');
  if (p.blueBox) box(p.blueBox, '#4169E1');
  (p.red || []).forEach(t => plot.append('path').attr('d', line(t)).attr('stroke', '#DC143C').attr('stroke-width', 1.1));
  (p.blue || []).forEach(t => plot.append('path').attr('d', line(t)).attr('stroke', '#4169E1').attr('stroke-width', 1.1));

  // candles
  const candle = plot.selectAll('g.candle').data(p.candles).join('g').attr('class', 'candle')
    .style('shape-rendering', 'crispEdges');
  candle.append('line')
    .attr('x1', (d, i) => px(x(i))).attr('x2', (d, i) => px(x(i)))
    .attr('y1', d => Math.round(y(d[1]))).attr('y2', d => Math.round(y(d[2])))
    .attr('stroke', '#000');
  candle.append('rect')
    .attr('x', (d, i) => px(x(i)) - 2).attr('width', 4)
    .attr('y', d => px(y(Math.max(d[0], d[3]))))
    .attr('height', d => Math.max(0, Math.round(Math.abs(y(d[0]) - y(d[3])))))
    .attr('fill', d => d[3] >= d[0] ? '#fff' : '#000').attr('stroke', '#000');

  // green hand drawn arrow on the H1 chart
  if (p.arrow) {
    const id = 'arrowHead' + idx;
    defs.append('marker').attr('id', id).attr('viewBox', '0 0 10 10').attr('refX', 7).attr('refY', 5)
      .attr('markerWidth', 5.5).attr('markerHeight', 5.5).attr('orient', 'auto')
      .append('path').attr('d', 'M0,0 L10,5 L0,10 Z').attr('fill', '#12a84b');
    plot.append('path').attr('d', line(p.arrow)).attr('fill', 'none').attr('stroke', '#12a84b')
      .attr('stroke-width', 2).attr('marker-end', `url(#${id})`);
  }

  // frames
  g.append('rect').attr('x', Math.floor(left) + 0.5).attr('y', Math.floor(top) + 0.5)
    .attr('width', Math.round(right - left)).attr('height', Math.round(bottom - top))
    .attr('fill', 'none').attr('stroke', '#000').style('shape-rendering', 'crispEdges');
  g.append('rect').attr('x', Math.floor(left) + 0.5).attr('y', Math.floor(subTop) + 0.5)
    .attr('width', Math.round(right - left)).attr('height', Math.round(subBot - subTop))
    .attr('fill', '#fff').attr('stroke', '#000').style('shape-rendering', 'crispEdges');
  g.append('path').attr('d', `M${left + 1},${subBot - 6} V${subBot} H${left + 7} Z`).attr('fill', '#c4c4c4');

  // separator labels in the lower strip
  (p.subLabels || []).forEach(([i, s]) => {
    g.append('text').attr('x', x(i)).attr('y', (subTop + subBot) / 2 + 4.5).attr('fill', '#8a8a8a')
      .style('font-size', '13.5px').text(s);
  });

  // period separators
  p.black.forEach(i => {
    g.append('line').attr('x1', px(x(i))).attr('x2', px(x(i))).attr('y1', top + 1).attr('y2', subBot)
      .attr('stroke', '#000').attr('stroke-dasharray', '3,3').style('shape-rendering', 'crispEdges');
  });
  g.append('line').attr('x1', px(x(p.pink))).attr('x2', px(x(p.pink))).attr('y1', top + 1).attr('y2', subBot)
    .attr('stroke', '#FF1493').attr('stroke-dasharray', '3,2').style('shape-rendering', 'crispEdges');
  g.append('path').attr('d', `M${p.triX - 6},${top + 1} h12 l-6,6 Z`).attr('fill', '#bdbdbd');
  if (p.pinkPips) {
    [top + 1, bottom - 3].forEach(py => {
      g.append('rect').attr('x', px(x(p.pink)) - 2).attr('y', Math.round(py) + 0.5).attr('width', 4).attr('height', 3)
        .attr('fill', 'none').attr('stroke', '#FF1493').style('shape-rendering', 'crispEdges');
    });
  }

  // legend
  g.append('path').attr('d', `M${left + 3},${top + 8} h9 l-4.5,4 Z`).attr('fill', '#000');
  g.append('text').attr('x', left + 18.5).attr('y', top + 13).attr('fill', '#000')
    .style('font-size', '13px').text(p.title);

  // price axis and date axis come from the same scales
  g.append('g').attr('class', 'axis').attr('transform', `translate(${Math.round(right) + 0.5},0)`)
    .call(d3.axisRight(y).tickValues(p.ticks).tickFormat(d3.format('.2f')).tickSize(3).tickPadding(4));
  const dateTicks = p.dates.map((d, i) => i * 12);
  const dateAxis = g.append('g').attr('class', 'axis').attr('transform', `translate(0,${Math.round(subBot) + 0.5})`)
    .call(d3.axisBottom(x).tickValues(dateTicks).tickFormat((d, i) => p.dates[i]).tickSize(3).tickPadding(0));
  dateAxis.selectAll('text').attr('text-anchor', 'start').attr('dx', -2).attr('dy', 0)
    .attr('y', p.dateY - Math.round(subBot) - 0.5);

  // lower strip scale
  [subTop + 2.5, p.subBaseY - 4.5, subBot - 1].forEach(ty => {
    g.append('line').attr('x1', right).attr('x2', right + 3).attr('y1', Math.round(ty) + 0.5).attr('y2', Math.round(ty) + 0.5)
      .attr('stroke', '#000').style('shape-rendering', 'crispEdges');
  });
  g.append('text').attr('x', right + 7).attr('y', p.subTopY).attr('fill', '#000').style('font-size', '13px').text(p.subTop);
  g.append('text').attr('x', right + 4).attr('y', p.subBaseY).attr('fill', '#000').style('font-size', '13px').text('0');
  g.append('text').attr('x', right + 7).attr('y', p.subBaseY).attr('fill', '#000').style('font-size', '13px').text('0.00');

  // price labels
  levelPrices.forEach((v, i) => {
    if (y(v) < top || y(v) > bottom + 1) return;
    const cy = y(v) + 1;
    g.append('rect').attr('x', right + 1.5).attr('y', cy - 7).attr('width', 56).attr('height', 14).attr('fill', labelColors[i]);
    g.append('text').attr('x', right + 6).attr('y', cy + 4.7).attr('fill', '#fff')
      .style('font-size', '13px').text(d3.format('.2f')(v));
  });

  // clock and the green button
  if (p.clock) {
    g.append('text').attr('x', x(p.pink) + 1).attr('y', p.clock).attr('fill', '#8a8a8a')
      .style('font-size', '17px').text('10:00');
  }
  g.append('rect').attr('x', right - 15).attr('y', bottom - 14.5).attr('width', 15).attr('height', 14.5)
    .attr('fill', '#008000').attr('stroke', '#2e9a2e').style('shape-rendering', 'crispEdges');
  g.append('text').attr('x', right - 7.5).attr('y', bottom - 4).attr('text-anchor', 'middle').attr('fill', '#fff')
    .style('font-size', '11px').style('font-weight', 'bold').text('-');

  (p.countdown || []).forEach(([cx, s]) => {
    g.append('text').attr('x', cx).attr('y', top + 34.5).attr('fill', '#FF1493')
      .style('font-family', '"Noto Sans CJK JP", sans-serif').style('font-size', '16px')
      .style('font-weight', /\d/.test(s) ? 'bold' : 'normal')
      .style('letter-spacing', s.length > 1 && !/\d/.test(s) ? '2px' : '0').text(s);
  });

  if (p.y1) {
    g.append('rect').attr('x', 1499.5).attr('y', 56).attr('width', 31).attr('height', 13).attr('fill', '#a9a9a9');
    g.append('text').attr('x', 1515).attr('y', 68).attr('text-anchor', 'middle').attr('fill', '#757575')
      .style('font-size', '15px').text('Y1');
    g.append('rect').attr('x', 1499.5).attr('y', 69).attr('width', 31).attr('height', 17).attr('fill', '#d2d2d2');
    g.append('rect').attr('x', 1500).attr('y', 72).attr('width', 14.5).attr('height', 14).attr('fill', '#a9a9a9');
    g.append('rect').attr('x', 1516.5).attr('y', 72).attr('width', 14.5).attr('height', 14).attr('fill', '#a9a9a9');
    g.append('path').attr('d', 'M1501.5,74 h11 l-5.5,10 Z').attr('fill', '#000');
    g.append('path').attr('d', 'M1518,84 h11 l-5.5,-10 Z').attr('fill', '#000');
  }
}

panels.forEach(drawPanel);

// the thin dark splitters between the windows
[[691, 0, 691, 433], [1450, 0, 1450, 433], [691, 436, 691, 872], [1450, 436, 1450, 872]].forEach(s => {
  svg.append('line').attr('x1', s[0]).attr('x2', s[2]).attr('y1', s[1]).attr('y2', s[3])
    .attr('stroke', '#6a6a6a').attr('stroke-width', 2.5);
});
svg.append('line').attr('x1', 0).attr('x2', 1910).attr('y1', 434.5).attr('y2', 434.5).attr('stroke', '#6a6a6a').attr('stroke-width', 2);
</script>
</body>
</html>
